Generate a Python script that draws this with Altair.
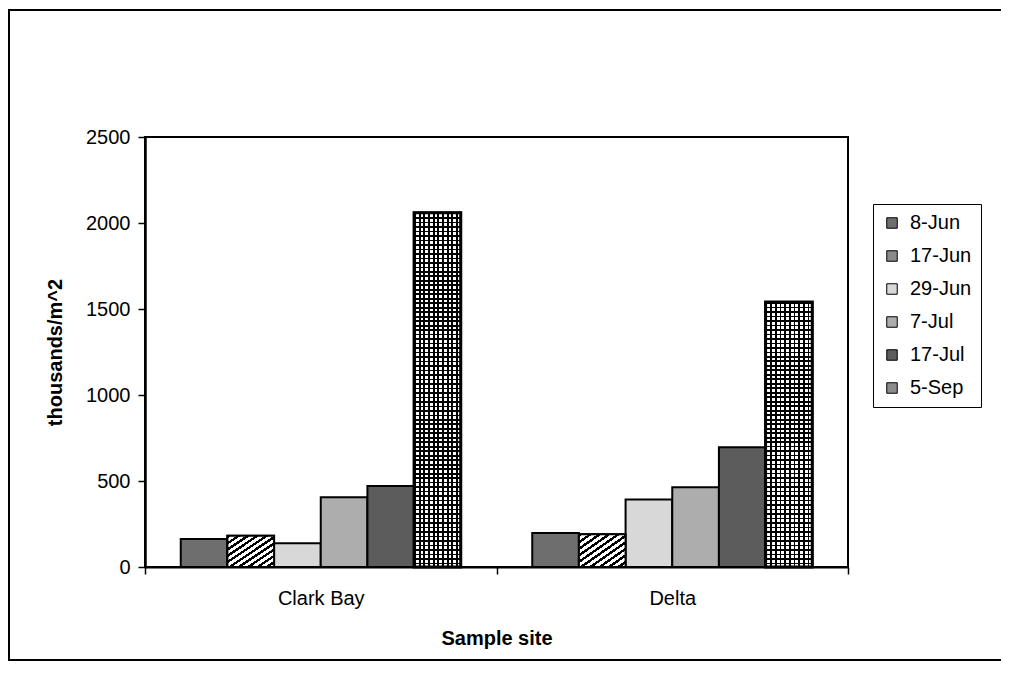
import altair as alt
import pandas as pd

sites = ["Clark Bay", "Delta"]
dates = ["8-Jun", "17-Jun", "29-Jun", "7-Jul", "17-Jul", "5-Sep"]
clark_bay = [163, 182, 138, 405, 471, 2060]
delta = [197, 190, 393, 463, 696, 1540]
y_ticks = [0, 500, 1000, 1500, 2000, 2500]
fills = ["#6e6e6e", "#8a8a8a", "#d8d8d8", "#adadad", "#5c5c5c", "#8c8c8c"]

rows = []
for site, vals in zip(sites, [clark_bay, delta]):
    for d, v in zip(dates, vals):
        rows.append({"site": site, "date": d, "value": v})
df = pd.DataFrame(rows)

FONT = "Liberation Sans"


def stripes(n, dark_frac, x2, y2, dark="#000000", light="#ffffff"):
    stops = []
    for i in range(n):
        a = i / n
        b = (i + dark_frac) / n
        c = (i + 1) / n
        stops += [
            {"offset": a, "color": dark},
            {"offset": b, "color": dark},
            {"offset": b, "color": light},
            {"offset": c, "color": light},
        ]
    return {"gradient": "linear", "x1": 0, "y1": 0, "x2": x2, "y2": y2, "stops": stops}


x_enc = alt.X(
    "site:N",
    scale=alt.Scale(domain=sites, paddingInner=0, paddingOuter=0),
    axis=alt.Axis(
        title="Sample site",
        labelAngle=0,
        labelFontSize=20,
        labelFont=FONT,
        labelColor="black",
        labelPadding=14,
        titleFontSize=20,
        titleFont=FONT,
        titleFontWeight="bold",
        titleColor="black",
        titlePadding=20,
        tickBand="extent",
        tickSize=7,
        tickColor="black",
        tickWidth=1.5,
        domainColor="black",
        domainWidth=2,
    ),
)
xo_enc = alt.XOffset("date:N", scale=alt.Scale(domain=dates, paddingInner=0, paddingOuter=0.766))
y_enc = alt.Y(
    "value:Q",
    scale=alt.Scale(domain=[0, 2500], nice=False),
    axis=alt.Axis(
        values=y_ticks,
        format="d",
        title="thousands/m^2",
        grid=False,
        labelFontSize=20,
        labelFont=FONT,
        labelColor="black",
        labelPadding=8,
        titleFontSize=20,
        titleFont=FONT,
        titleFontWeight="bold",
        titleColor="black",
        titlePadding=20,
        tickSize=7,
        tickColor="black",
        tickWidth=1.5,
        domainColor="black",
        domainWidth=2.5,
    ),
)

base = alt.Chart(df)

bars = base.mark_bar(stroke="black", strokeWidth=2, opacity=1).encode(
    x=x_enc,
    xOffset=xo_enc,
    y=y_enc,
    color=alt.Color(
        "date:N",
        scale=alt.Scale(domain=dates, range=fills),
        legend=alt.Legend(
            title=None,
            orient="none",
            legendX=728,
            legendY=67,
            symbolType="square",
            symbolSize=110,
            symbolStrokeColor="black",
            symbolStrokeWidth=1,
            symbolOpacity=1,
            labelFontSize=20,
            labelFont=FONT,
            labelColor="black",
            labelOffset=8,
            rowPadding=13,
            padding=9,
            strokeColor="black",
            fillColor="white",
        ),
    ),
)

hatch = (
    base.transform_filter(alt.datum.date == "17-Jun")
    .mark_bar(fill=stripes(10, 0.45, 1, 1), stroke="black", strokeWidth=2)
    .encode(x=x_enc, xOffset=xo_enc, y=y_enc)
)

grid_h_clark = (
    base.transform_filter((alt.datum.date == "5-Sep") & (alt.datum.site == "Clark Bay"))
    .mark_bar(fill=stripes(79, 0.38, 0, 1), stroke="black", strokeWidth=2)
    .encode(x=x_enc, xOffset=xo_enc, y=y_enc)
)
grid_h_delta = (
    base.transform_filter((alt.datum.date == "5-Sep") & (alt.datum.site == "Delta"))
    .mark_bar(fill=stripes(59, 0.38, 0, 1), stroke="black", strokeWidth=2)
    .encode(x=x_enc, xOffset=xo_enc, y=y_enc)
)
grid_v = (
    base.transform_filter(alt.datum.date == "5-Sep")
    .mark_bar(
        fill=stripes(10, 0.38, 1, 0, dark="rgba(0,0,0,1)", light="rgba(255,255,255,0)"),
        stroke="black",
        strokeWidth=3,
    )
    .encode(x=x_enc, xOffset=xo_enc, y=y_enc)
)

frame_df = pd.DataFrame({"k": [0]})
frame_top = alt.Chart(frame_df).mark_rule(color="black", strokeWidth=2).encode(
    x=alt.value(-137), x2=alt.value(856), y=alt.value(-127)
)
frame_left = alt.Chart(frame_df).mark_rule(color="black", strokeWidth=2).encode(
    x=alt.value(-136), y=alt.value(-127), y2=alt.value(525)
)
frame_bottom = alt.Chart(frame_df).mark_rule(color="black", strokeWidth=2).encode(
    x=alt.value(-137), x2=alt.value(856), y=alt.value(523)
)

chart = (
    alt.layer(bars, hatch, grid_h_clark, grid_h_delta, grid_v, frame_top, frame_left, frame_bottom)
    .properties(
        width=703,
        height=430,
        autosize=alt.AutoSizeParams(type="none"),
        padding={"left": 137, "top": 129, "right": 161, "bottom": 94},
        background="white",
    )
    .configure_view(stroke="black", strokeWidth=2)
)

chart.save("out.html", embed_options={"renderer": "svg", "actions": False})
